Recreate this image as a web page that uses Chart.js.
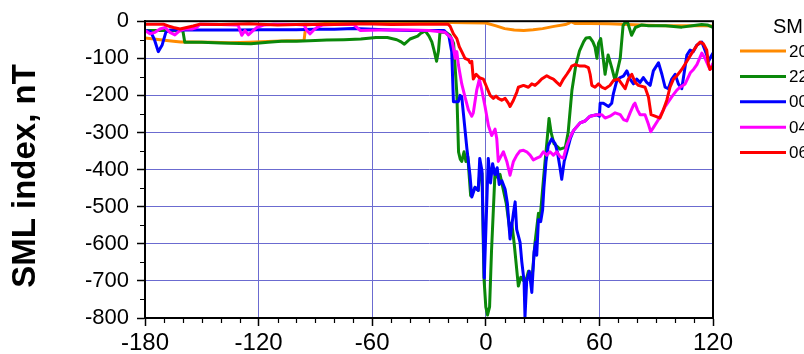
<!DOCTYPE html>
<html>
<head>
<meta charset="utf-8">
<script src="https://cdn.jsdelivr.net/npm/chart.js@4.4.1/dist/chart.umd.min.js"></script>
<style>
  html, body { margin: 0; padding: 0; background: #fff; overflow: hidden; }
  #wrap { position: relative; width: 804px; height: 354px; }
</style>
</head>
<body>
<div id="wrap"><canvas id="sml"></canvas></div>
<script>
"use strict";

// minutes from onset, SML in nT -- one pair of arrays per storm
const T_20 = [-180,-172,-165,-161,-155,-145,-135,-125,-115,-105,-96,-95,-85,-70,-55,-40,-25,-10,0,5,10,15,20,25,30,36,42,44,45,47,55,65,75,85,95,105,115,120];
const V_20 = [-45,-50,-54,-56,-56,-57,-58,-57,-55,-53,-52,-10,-6,-4,-4,-3,-3,-4,-5,-12,-20,-24,-25,-23,-20,-14,-9,-5,-1,-6,-6,-7,-9,-11,-12,-12,-12,-13];

const T_22 = [-180,-170,-160,-159,-150,-140,-130,-124,-115,-108,-100,-90,-84,-75,-66,-58,-52,-47,-45,-43,-40,-36,-34.7,-32,-30,-28.5,-27.5,-26,-25,-24.2,-21,-18.9,-17,-15.3,-14.4,-13.5,-12.7,-11.5,-10.5,-9.5,-8,-5.7,-4,-3,-2,-1,0,0.9,2,3,4.9,5.8,7.5,10.8,12.6,13.7,15,17.2,18.5,20,21.6,22.5,24.3,26,27.8,28.7,30.4,31.3,32.2,33.4,34.5,36,39.2,42,43.5,45.5,47.5,49.5,51.7,53,55,56.5,57.7,58.7,59.5,60.7,62,63,64.6,66.5,68.3,71,72.5,73.6,75,77,79,82.4,86,95,103.5,109,114,117,120];
const V_22 = [-25,-25,-26,-57,-57,-59,-60,-61,-57,-54,-54,-52,-51,-50,-48,-44,-44,-50,-55,-62,-48,-40,-34,-26,-40,-56,-75,-108,-80,-30,-30,-38,-60,-195,-352,-372,-378,-352,-378,-365,-470,-448,-456,-400,-410,-690,-770,-792,-770,-622,-404,-420,-413,-491,-560,-544,-600,-714,-690,-700,-692,-674,-700,-596,-518,-530,-430,-378,-330,-262,-300,-330,-345,-340,-300,-186,-120,-80,-55,-45,-44,-55,-70,-100,-60,-47,-100,-143,-91,-125,-160,-100,-12,-3,-5,-38,-17,-10,-12,-12,-16,-12,-9,-10,-17];

const T_00 = [-180,-177,-175,-173,-171,-169,-167,-160,-150,-140,-130,-120,-110,-100,-90,-80,-70,-60,-50,-40,-30,-22,-19.5,-18,-17.1,-14.5,-13.6,-12.7,-10,-8.3,-7.4,-5.7,-4,-3.2,-2,-0.8,1.3,2.5,3.6,4.8,6,7.1,8.5,10.2,11.4,12.8,14.6,15.5,16.3,18.1,19,20.2,20.7,21.6,23,24.3,25.5,26.4,26.9,27.8,29,30,30.7,31.8,33,34.8,36.6,37.8,39.2,40.1,41.4,42.8,44.6,46.3,49.8,52.4,55.1,58.6,60,60.4,62.1,64.8,66.5,67.4,69.2,70.9,72.7,74.5,76.2,78,79.7,81.5,83.2,85,86.8,88.5,91.2,93,94.7,96.4,98.2,100,101.7,103.5,106.2,107.9,109.6,111.4,114.1,116.7,117.6,119.4,120];
const V_00 = [-25,-28,-50,-82,-65,-30,-24,-24,-24,-24,-24,-23,-23,-23,-22,-22,-20,-22,-24,-25,-25,-25,-40,-82,-217,-217,-200,-204,-343,-418,-474,-448,-456,-370,-404,-692,-370,-436,-384,-413,-395,-440,-430,-453,-491,-587,-517,-487,-561,-596,-648,-700,-797,-700,-674,-731,-622,-596,-631,-535,-540,-509,-448,-378,-335,-317,-330,-352,-395,-426,-378,-352,-317,-295,-274,-269,-256,-252,-256,-221,-221,-230,-221,-195,-160,-152,-148,-134,-156,-169,-156,-165,-152,-165,-173,-134,-112,-143,-178,-182,-156,-143,-169,-182,-91,-78,-82,-65,-56,-91,-108,-91,-86];

const T_04 = [-180,-177.4,-174.7,-172.1,-169.4,-166.8,-164.2,-161.5,-158.9,-155.3,-152.7,-150.9,-140,-132,-130.7,-128.9,-127.2,-125.4,-122.8,-121,-117,-112,-100,-96,-94.6,-92.8,-91.1,-89.3,-86,-80,-70,-66.4,-55,-40,-30,-21.5,-19.8,-18,-17.1,-16.2,-15.3,-14.5,-12.7,-11,-9.2,-7.4,-6.6,-4.8,-3.4,-2.1,-0.4,1.4,3.1,4.9,5.8,6.6,7.5,9.3,11.1,12.8,14.6,16.4,18,19.9,21.6,23.4,25.1,26.9,28.7,30.4,32.2,33.9,35.7,37.5,39.2,41,42.8,44.5,46.3,49.8,52.4,55.1,58.6,61.3,63,65.6,68.3,71,72.7,74.5,76.2,78,78.8,80.1,81.5,84.1,85.9,87.1,88.5,91.2,94.7,98.2,100.9,102.7,105.3,108,109.7,111.5,114.1,115.8,117.6,118.4,120];
const V_04 = [-25,-34,-30,-21,-17,-30,-37,-25,-21,-21,-17,-8,-9,-10,-12,-38,-25,-37,-25,-17,-10,-8,-9,-10,-25,-34,-25,-17,-10,-9,-8,-25,-24,-24,-25,-30,-38,-47,-73,-100,-82,-117,-169,-204,-239,-256,-247,-186,-156,-186,-230,-282,-308,-291,-317,-378,-369,-352,-378,-415,-378,-361,-350,-348,-352,-361,-374,-369,-365,-352,-361,-352,-361,-352,-365,-369,-335,-313,-295,-274,-269,-256,-252,-252,-261,-256,-247,-252,-265,-269,-247,-226,-221,-239,-252,-252,-278,-298,-287,-265,-230,-204,-186,-178,-169,-139,-130,-117,-86,-100,-121,-130,-113];

const T_06 = [-180,-170.3,-167.7,-165,-161.5,-158,-154.5,-151,-140,-125,-110,-95,-80,-65,-50,-35,-20,-18.9,-17.1,-15.3,-14,-12.7,-11,-9.2,-8.3,-7.4,-6.6,-5.1,-3.4,-1.3,0.5,2.3,4,5.4,6.6,8.4,10.2,11.9,12.8,14.6,16.4,17.2,19.9,22.5,24.3,26,27.8,29.5,32.2,33.9,35.7,37.5,39.2,41,42.8,44.5,45.4,47.2,49.8,52.4,54.2,55.1,56,57.7,59.5,61.3,63,65.6,67.4,70,71.8,73.6,75.3,77.1,78.9,80.6,84.1,85.9,87.3,89.4,92,93.8,95.6,97.3,99.1,100.9,103.5,106.2,108.8,111.5,113.2,114.9,116.7,117.6,118.4,120];
const V_06 = [-8,-8,-13,-17,-21,-17,-13,-8,-9,-7,-10,-8,-9,-7,-9,-8,-8,-13,-34,-47,-69,-82,-100,-104,-112,-108,-156,-143,-152,-156,-178,-200,-208,-202,-208,-213,-208,-221,-230,-213,-191,-178,-173,-178,-169,-173,-165,-156,-147,-152,-156,-165,-173,-156,-143,-130,-121,-117,-121,-121,-125,-143,-173,-178,-169,-178,-182,-173,-160,-156,-169,-182,-156,-143,-165,-173,-178,-204,-252,-256,-261,-239,-213,-178,-156,-147,-130,-108,-86,-65,-56,-61,-78,-117,-130,-121];

const SERIES = [
  { label: "20:00 UT", t: T_20, v: V_20, color: "#ff8a00", order: 5 },
  { label: "22:00 UT", t: T_22, v: V_22, color: "#0a880a", order: 4 },
  { label: "00:00 UT", t: T_00, v: V_00, color: "#0000ff", order: 3 },
  { label: "04:00 UT", t: T_04, v: V_04, color: "#ff00ff", order: 2 },
  { label: "06:00 UT", t: T_06, v: V_06, color: "#ff0000", order: 1 },
];
const LEGEND_TITLE = "SML";
const Y_TITLE = "SML index, nT";

const FONT = "'Liberation Sans', Arial, sans-serif";
const GRID = "#6b6bd0";

// grid lines only inside the box; the box edges are drawn by the frame
const innerGrid = (edges) => (c) => (edges.includes(c.tick.value) ? "rgba(0,0,0,0)" : GRID);

// outer frame, minor ticks, rotated y title and the (clipped) legend
const extras = {
  id: "extras",
  afterDatasetsDraw(chart) {
    const { ctx, chartArea: a, scales: { x, y } } = chart;
    ctx.save();
    ctx.strokeStyle = "#000";
    ctx.lineWidth = 2;
    ctx.strokeRect(a.left, a.top, a.right - a.left, a.bottom - a.top);

    ctx.lineWidth = 1.2;
    ctx.beginPath();
    for (let v = -170; v < 120; v += 10) {
      if (v % 60 === 0) continue;
      const px = Math.round(x.getPixelForValue(v)) + 0.5;
      ctx.moveTo(px, a.bottom); ctx.lineTo(px, a.bottom + 5);
    }
    for (let v = -750; v < 0; v += 50) {
      if (v % 100 === 0) continue;
      const py = Math.round(y.getPixelForValue(v)) + 0.5;
      ctx.moveTo(a.left - 5, py); ctx.lineTo(a.left, py);
    }
    ctx.stroke();

    ctx.fillStyle = "#000";
    ctx.font = `bold 33px ${FONT}`;
    ctx.textAlign = "center";
    ctx.textBaseline = "middle";
    ctx.translate(26, 176);
    ctx.rotate(-Math.PI / 2);
    ctx.fillText(Y_TITLE, 0, 0);
    ctx.restore();

    ctx.save();
    ctx.fillStyle = "#000";
    ctx.textBaseline = "middle";
    ctx.textAlign = "left";
    ctx.font = `20px ${FONT}`;
    ctx.fillText(LEGEND_TITLE, 773, 27);
    ctx.font = `17px ${FONT}`;
    chart.data.datasets.forEach((ds, i) => {
      const ly = 51 + i * 25.4;
      ctx.strokeStyle = ds.borderColor;
      ctx.lineWidth = 3;
      ctx.beginPath(); ctx.moveTo(740, ly); ctx.lineTo(786, ly); ctx.stroke();
      ctx.fillText(ds.label, 789, ly + 1);
    });
    ctx.restore();
  },
};

Chart.defaults.font.family = FONT;
Chart.defaults.color = "#000";

new Chart(document.getElementById("sml"), {
  type: "line",
  data: {
    datasets: SERIES.map((s) => ({
      label: s.label,
      data: s.t.map((t, i) => ({ x: t, y: s.v[i] })),
      borderColor: s.color,
      borderWidth: 3,
      pointRadius: 0,
      tension: 0,
      borderJoinStyle: "round",
      order: s.order,
    })),
  },
  plugins: [extras],
  options: {
    responsive: true, maintainAspectRatio: false, animation: false,
    layout: { padding: { top: 12, right: 91, left: 0, bottom: 0 } },
    plugins: { legend: { display: false }, tooltip: { enabled: false } },
    scales: {
      x: {
        type: "linear", min: -180, max: 120,
        afterFit: (s) => { s.height = 36; },
        ticks: { stepSize: 60, font: { size: 24 }, color: "#000", padding: 3, maxRotation: 0 },
        grid: { color: innerGrid([-180, 120]), lineWidth: 1, tickColor: "#000", tickLength: 8, tickWidth: 1.5 },
        border: { color: "#000", width: 2 },
      },
      y: {
        type: "linear", min: -800, max: 0,
        afterFit: (s) => { s.width = 145; },
        ticks: { stepSize: 100, font: { size: 22 }, color: "#000", padding: 8 },
        grid: { color: innerGrid([-800, 0]), lineWidth: 1, tickColor: "#000", tickLength: 8, tickWidth: 1.5 },
        border: { color: "#000", width: 2 },
      },
    },
  },
});
</script>
</body>
</html>
